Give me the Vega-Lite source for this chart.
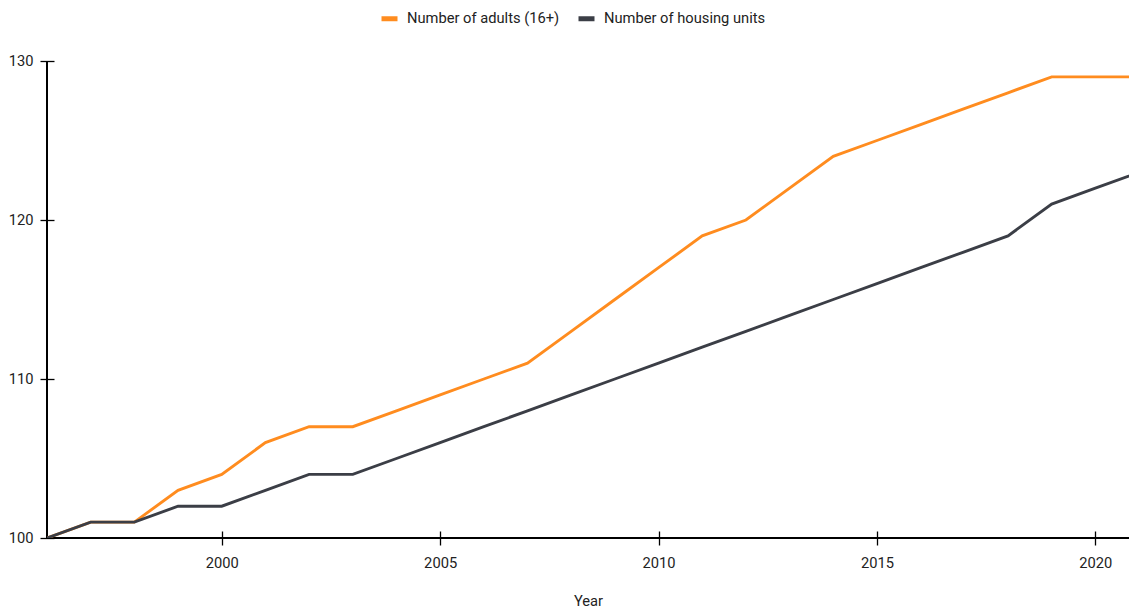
{
  "$schema": "https://vega.github.io/schema/vega-lite/v6.json",
  "width": 1082,
  "height": 477,
  "autosize": {"type": "none"},
  "padding": {"left": 47, "top": 61, "right": 0, "bottom": 72},
  "background": "#ffffff",
  "config": {
    "font": "Roboto",
    "view": {"stroke": null},
    "axis": {"labelFont": "Roboto", "titleFont": "Roboto", "labelFontSize": 14.7, "titleFontSize": 14.7, "labelColor": "#222222", "titleColor": "#222222", "titleFontWeight": "normal", "grid": false, "domain": false, "tickColor": "#000000", "tickWidth": 1.3},
    "legend": {"labelFont": "Roboto", "labelFontSize": 14.7, "labelColor": "#222222", "labelLimit": 400}
  },
  "data": {
    "values": [
      {"Year": 1996, "series": "Number of adults (16+)", "value": 100},
      {"Year": 1997, "series": "Number of adults (16+)", "value": 101},
      {"Year": 1998, "series": "Number of adults (16+)", "value": 101},
      {"Year": 1999, "series": "Number of adults (16+)", "value": 103},
      {"Year": 2000, "series": "Number of adults (16+)", "value": 104},
      {"Year": 2001, "series": "Number of adults (16+)", "value": 106},
      {"Year": 2002, "series": "Number of adults (16+)", "value": 107},
      {"Year": 2003, "series": "Number of adults (16+)", "value": 107},
      {"Year": 2004, "series": "Number of adults (16+)", "value": 108},
      {"Year": 2005, "series": "Number of adults (16+)", "value": 109},
      {"Year": 2006, "series": "Number of adults (16+)", "value": 110},
      {"Year": 2007, "series": "Number of adults (16+)", "value": 111},
      {"Year": 2008, "series": "Number of adults (16+)", "value": 113},
      {"Year": 2009, "series": "Number of adults (16+)", "value": 115},
      {"Year": 2010, "series": "Number of adults (16+)", "value": 117},
      {"Year": 2011, "series": "Number of adults (16+)", "value": 119},
      {"Year": 2012, "series": "Number of adults (16+)", "value": 120},
      {"Year": 2013, "series": "Number of adults (16+)", "value": 122},
      {"Year": 2014, "series": "Number of adults (16+)", "value": 124},
      {"Year": 2015, "series": "Number of adults (16+)", "value": 125},
      {"Year": 2016, "series": "Number of adults (16+)", "value": 126},
      {"Year": 2017, "series": "Number of adults (16+)", "value": 127},
      {"Year": 2018, "series": "Number of adults (16+)", "value": 128},
      {"Year": 2019, "series": "Number of adults (16+)", "value": 129},
      {"Year": 2020, "series": "Number of adults (16+)", "value": 129},
      {"Year": 2021, "series": "Number of adults (16+)", "value": 129},
      {"Year": 1996, "series": "Number of housing units", "value": 100},
      {"Year": 1997, "series": "Number of housing units", "value": 101},
      {"Year": 1998, "series": "Number of housing units", "value": 101},
      {"Year": 1999, "series": "Number of housing units", "value": 102},
      {"Year": 2000, "series": "Number of housing units", "value": 102},
      {"Year": 2001, "series": "Number of housing units", "value": 103},
      {"Year": 2002, "series": "Number of housing units", "value": 104},
      {"Year": 2003, "series": "Number of housing units", "value": 104},
      {"Year": 2004, "series": "Number of housing units", "value": 105},
      {"Year": 2005, "series": "Number of housing units", "value": 106},
      {"Year": 2006, "series": "Number of housing units", "value": 107},
      {"Year": 2007, "series": "Number of housing units", "value": 108},
      {"Year": 2008, "series": "Number of housing units", "value": 109},
      {"Year": 2009, "series": "Number of housing units", "value": 110},
      {"Year": 2010, "series": "Number of housing units", "value": 111},
      {"Year": 2011, "series": "Number of housing units", "value": 112},
      {"Year": 2012, "series": "Number of housing units", "value": 113},
      {"Year": 2013, "series": "Number of housing units", "value": 114},
      {"Year": 2014, "series": "Number of housing units", "value": 115},
      {"Year": 2015, "series": "Number of housing units", "value": 116},
      {"Year": 2016, "series": "Number of housing units", "value": 117},
      {"Year": 2017, "series": "Number of housing units", "value": 118},
      {"Year": 2018, "series": "Number of housing units", "value": 119},
      {"Year": 2019, "series": "Number of housing units", "value": 121},
      {"Year": 2020, "series": "Number of housing units", "value": 122},
      {"Year": 2021, "series": "Number of housing units", "value": 123}
    ]
  },
  "layer": [
    {
      "mark": {"type": "rule", "color": "#000000", "strokeWidth": 1.3},
      "encoding": {"y": {"datum": 100, "type": "quantitative", "scale": {"domain": [100, 130]}}}
    },
    {
      "mark": {"type": "rule", "color": "#000000", "strokeWidth": 1.3},
      "encoding": {"x": {"datum": 1996, "type": "quantitative", "scale": {"domain": [1996, 2020.77]}}}
    },
    {
      "mark": {"type": "line", "strokeWidth": 2.9, "clip": true},
      "encoding": {
        "x": {
          "field": "Year", "type": "quantitative",
          "scale": {"domain": [1996, 2020.77], "nice": false, "zero": false},
          "axis": {"title": "Year", "values": [2000, 2005, 2010, 2015, 2020], "format": "d", "offset": -7, "tickSize": 14, "labelPadding": 10, "titlePadding": 24}
        },
        "y": {
          "field": "value", "type": "quantitative",
          "scale": {"domain": [100, 130], "nice": false, "zero": false},
          "axis": {"title": null, "values": [100, 110, 120, 130], "offset": -7, "tickSize": 14, "labelPadding": 7}
        },
        "color": {
          "field": "series", "type": "nominal",
          "scale": {"domain": ["Number of adults (16+)", "Number of housing units"], "range": ["#ff8c1f", "#3b3e46"]},
          "legend": {"title": null, "orient": "none", "direction": "horizontal", "legendX": 332, "legendY": -53, "symbolType": "stroke", "symbolStrokeWidth": 5, "symbolSize": 256, "labelOffset": 7, "columnPadding": 8, "padding": 0}
        }
      }
    }
  ]
}
